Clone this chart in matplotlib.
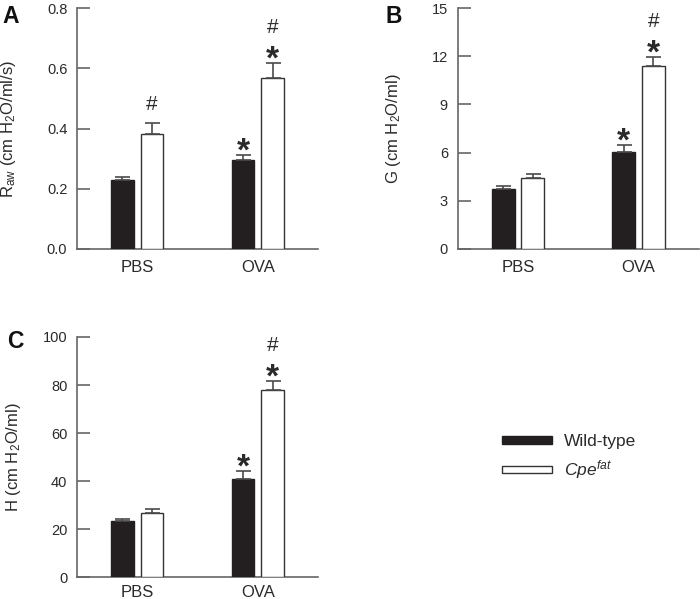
import matplotlib
matplotlib.use('Agg')
import matplotlib.pyplot as plt
import numpy as np

plt.rcParams['font.family'] = ['Liberation Sans', 'DejaVu Sans']
plt.rcParams['mathtext.fontset'] = 'custom'
plt.rcParams['mathtext.rm'] = 'Liberation Sans'
plt.rcParams['mathtext.it'] = 'Liberation Sans:italic'
plt.rcParams['mathtext.bf'] = 'Liberation Sans:bold'

# ---------------- data ----------------
groups = ['PBS', 'OVA']
series_labels = ['Wild-type', r'$\mathit{Cpe}^{\mathit{fat}}$']

raw_wt = [0.228, 0.294]
raw_wt_err = [0.012, 0.017]
raw_cpe = [0.381, 0.567]
raw_cpe_err = [0.036, 0.050]
raw_wt_marks = ['', '*']
raw_cpe_marks = ['#', '*#']
raw_ticks = [0.0, 0.2, 0.4, 0.6, 0.8]
raw_ticklabels = ['0.0', '0.2', '0.4', '0.6', '0.8']

g_wt = [3.76, 6.06]
g_wt_err = [0.14, 0.42]
g_cpe = [4.40, 11.38]
g_cpe_err = [0.25, 0.60]
g_wt_marks = ['', '*']
g_cpe_marks = ['', '*#']
g_ticks = [0, 3, 6, 9, 12, 15]
g_ticklabels = ['0', '3', '6', '9', '12', '15']

h_wt = [23.3, 40.9]
h_wt_err = [1.0, 3.2]
h_cpe = [26.6, 77.8]
h_cpe_err = [1.8, 3.9]
h_wt_marks = ['', '*']
h_cpe_marks = ['', '*#']
h_ticks = [0, 20, 40, 60, 80, 100]
h_ticklabels = ['0', '20', '40', '60', '80', '100']

# ---------------- style ----------------
W, H = 700, 599
fig = plt.figure(figsize=(7.0, 5.99), dpi=100)

SPINE = '#666666'
TXT = '#2a2a2a'
BLACK = '#231f20'
ERR = '#4a4a4a'

def px_axes(left, top, width, height):
    return fig.add_axes([left / W, (H - top - height) / H, width / W, height / H])

def panel(ax, wt, wt_err, cpe, cpe_err, wt_marks, cpe_marks, ticks, ticklabels,
          ylabel, letter, letter_xy, label_x, xpad=8):
    x = np.array([1.0, 3.0])
    off, bw = 0.245, 0.38
    zeros = np.zeros(len(x))
    b1 = ax.bar(x - off, wt, bw, color=BLACK, edgecolor=BLACK, linewidth=1.0,
                yerr=[zeros, wt_err], capsize=5.4,
                error_kw=dict(ecolor=ERR, elinewidth=1.2, capthick=1.2), zorder=3,
                label=series_labels[0])
    b2 = ax.bar(x + off, cpe, bw, color='white', edgecolor='#333333', linewidth=1.0,
                yerr=[zeros, cpe_err], capsize=5.4,
                error_kw=dict(ecolor=ERR, elinewidth=1.2, capthick=1.2), zorder=3,
                label=series_labels[1])
    ymax = ticks[-1]
    for xs, vals, errs, marks in ((x - off, wt, wt_err, wt_marks),
                                  (x + off, cpe, cpe_err, cpe_marks)):
        for xi, v, e, m in zip(xs, vals, errs, marks):
            top = v + e
            if '*' in m:
                ax.annotate('*', xy=(xi, top), xytext=(0, 2.0), textcoords='offset points',
                            ha='center', va='center', fontsize=24, fontweight='bold',
                            color=TXT, annotation_clip=False)
            if '#' in m:
                dy = 25.5 if '*' in m else 13.5
                ax.annotate('#', xy=(xi, top), xytext=(0, dy), textcoords='offset points',
                            ha='center', va='center', fontsize=15,
                            color=TXT, annotation_clip=False)
    ax.set_xlim(0, 4)
    ax.set_ylim(0, ymax)
    ax.set_yticks(ticks)
    ax.set_yticklabels(ticklabels)
    ax.set_xticks(x)
    ax.set_xticklabels(groups)
    for s in ('top', 'right'):
        ax.spines[s].set_visible(False)
    for s in ('left', 'bottom'):
        ax.spines[s].set_color(SPINE)
        ax.spines[s].set_linewidth(1.2)
    ax.tick_params(axis='y', direction='in', length=9.4, width=1.2, color=SPINE,
                   labelsize=10.5, labelcolor=TXT, pad=7)
    ax.tick_params(axis='x', length=0, labelsize=12, labelcolor=TXT, pad=xpad)
    ax.set_ylabel(ylabel, fontsize=12, color=TXT)
    ax.yaxis.set_label_coords(label_x, 0.5)
    fig.text(letter_xy[0] / W, 1 - letter_xy[1] / H, letter, fontsize=16.5,
             fontweight='bold', color='#111111', ha='left', va='top')
    return b1, b2

axA = px_axes(77, 8, 241, 241)
panel(axA, raw_wt, raw_wt_err, raw_cpe, raw_cpe_err, raw_wt_marks, raw_cpe_marks,
      raw_ticks, raw_ticklabels, r'R$_{\mathrm{aw}}$ (cm H$_2$O/ml/s)', 'A', (2, 5), -0.245)

axB = px_axes(457.7, 8, 241, 241)
panel(axB, g_wt, g_wt_err, g_cpe, g_cpe_err, g_wt_marks, g_cpe_marks,
      g_ticks, g_ticklabels, r'G (cm H$_2$O/ml)', 'B', (385, 5), -0.227)

axC = px_axes(77, 337, 241, 240.3)
b1, b2 = panel(axC, h_wt, h_wt_err, h_cpe, h_cpe_err, h_wt_marks, h_cpe_marks,
               h_ticks, h_ticklabels, r'H (cm H$_2$O/ml)', 'C', (7, 330), -0.224, xpad=5.5)

fig.legend(handles=[b1, b2], labels=series_labels, loc='upper left',
           bbox_to_anchor=(501.7 / W, 1 - 434 / H), frameon=False, fontsize=12.5,
           handlelength=2.88, handleheight=0.3, handletextpad=0.7,
           borderpad=0, borderaxespad=0, labelspacing=0.55, labelcolor=TXT)

fig.savefig('out.png', dpi=100)
